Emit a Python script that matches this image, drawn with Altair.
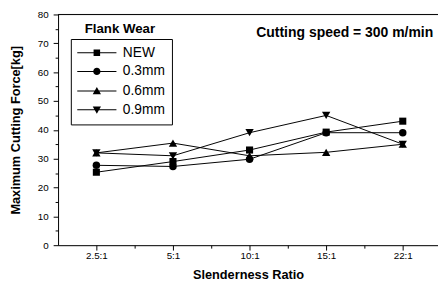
import altair as alt
import pandas as pd

ratios = ["2.5:1", "5:1", "10:1", "15:1", "22:1"]
series = ["NEW", "0.3mm", "0.6mm", "0.9mm"]
v_new = [25.3, 29.0, 33.0, 39.2, 43.0]
v_03 = [27.7, 27.3, 29.8, 39.0, 39.0]
v_06 = [32.0, 35.4, 31.0, 32.2, 35.0]
v_09 = [32.0, 31.0, 39.0, 45.0, 35.0]
shapes = ["square", "circle", "triangle-up", "triangle-down"]
sizes = [52, 58, 72, 72]
LINE = "M-5.7,-0.15H5.7V0.15H-5.7Z"
legend_paths = [
    LINE + "M-0.95,-0.95H0.95V0.95H-0.95Z",
    LINE + "M1.05,0A1.05,1.05,0,1,1,-1.05,0A1.05,1.05,0,1,1,1.05,0Z",
    LINE + "M0,-1.15L1.2,0.95L-1.2,0.95Z",
    LINE + "M0,1.15L-1.2,-0.95L1.2,-0.95Z",
]

rows = []
for name, vals in zip(series, [v_new, v_03, v_06, v_09]):
    for i, v in enumerate(vals):
        rows.append({"series": name, "idx": i, "force": v})
df = pd.DataFrame(rows)

FONT = "Liberation Sans"
label_js = "[" + ",".join("'" + r + "'" for r in ratios) + "]"

xscale = alt.Scale(domain=[-0.5, 4.46], nice=False, zero=False)
yscale = alt.Scale(domain=[0, 80], nice=False, zero=True)

x_axis = alt.Axis(
    values=[i * 0.5 for i in range(9)],
    labelExpr=f"datum.value % 1 == 0 ? {label_js}[datum.value] : ''",
    tickSize={"condition": {"test": "datum.value % 1 == 0", "value": 5}, "value": 3},
    labelOverlap=False,
    title="Slenderness Ratio",
    titleFontSize=13, titleFontWeight="bold", titleFont=FONT, titlePadding=8,
    labelFontSize=10, labelFont=FONT, labelPadding=1, grid=False,
    domainColor="black", tickColor="black", labelColor="black", titleColor="black",
)
y_axis = alt.Axis(
    values=list(range(0, 81, 5)),
    labelExpr="datum.value % 10 == 0 ? datum.value : ''",
    tickSize={"condition": {"test": "datum.value % 10 == 0", "value": 5}, "value": 3},
    labelOverlap=False,
    title="Maximum Cutting Force[kg]",
    titleFontSize=13, titleFontWeight="bold", titleFont=FONT, titlePadding=15,
    labelFontSize=10, labelFont=FONT, labelPadding=5, grid=False,
    domainColor="black", tickColor="black", labelColor="black", titleColor="black",
)

X = alt.X("idx:Q", scale=xscale, axis=x_axis)
Y = alt.Y("force:Q", scale=yscale, axis=y_axis)

base = alt.Chart(df)

lines = base.mark_line(color="black", strokeWidth=1).encode(x=X, y=Y, detail="series:N")

layers = [lines]
for name, shp, sz in zip(series, shapes, sizes):
    layers.append(
        base.transform_filter(alt.datum.series == name)
        .mark_point(filled=True, color="black", opacity=1, shape=shp, size=sz)
        .encode(x=X, y=Y)
    )

legend_layer = base.transform_filter("false").mark_point(
    filled=True, color="black", opacity=1
).encode(
    x=X,
    y=Y,
    shape=alt.Shape(
        "series:N",
        scale=alt.Scale(domain=series, range=legend_paths),
        legend=alt.Legend(
            title=None, orient="none", legendX=13, legendY=25,
            strokeColor="black", padding=7, rowPadding=5,
            symbolSize=49, symbolOffset=12.5, labelOffset=19.5,
            symbolFillColor="black", symbolOpacity=1,
            labelFont=FONT, labelFontSize=14, labelColor="black",
        ),
    ),
)
layers.append(legend_layer)

top_frame = alt.Chart(pd.DataFrame({"force": [80]})).mark_rule(color="black", strokeWidth=1).encode(
    y=Y, x=alt.value(0), x2=alt.value(387)
)
layers.append(top_frame)

notes = pd.DataFrame({"t": ["Flank Wear"]})
flank = alt.Chart(notes).mark_text(
    font=FONT, fontSize=13.5, fontWeight="bold", color="black", align="center", baseline="middle"
).encode(text="t:N", x=alt.value(63), y=alt.value(15))
notes2 = pd.DataFrame({"t": ["Cutting speed = 300 m/min"]})
speed = alt.Chart(notes2).mark_text(
    font=FONT, fontSize=14.2, fontWeight="bold", color="black", align="center", baseline="middle"
).encode(text="t:N", x=alt.value(292), y=alt.value(19))
layers += [flank, speed]

chart = alt.layer(*layers).properties(
    width=387, height=235,
    autosize=alt.AutoSizeParams(type="none"),
    padding={"left": 51, "top": 4, "right": 0, "bottom": 40},
).configure_view(stroke=None).configure(background="white")

chart.save("out.html", embed_options={"renderer": "svg", "actions": False})
